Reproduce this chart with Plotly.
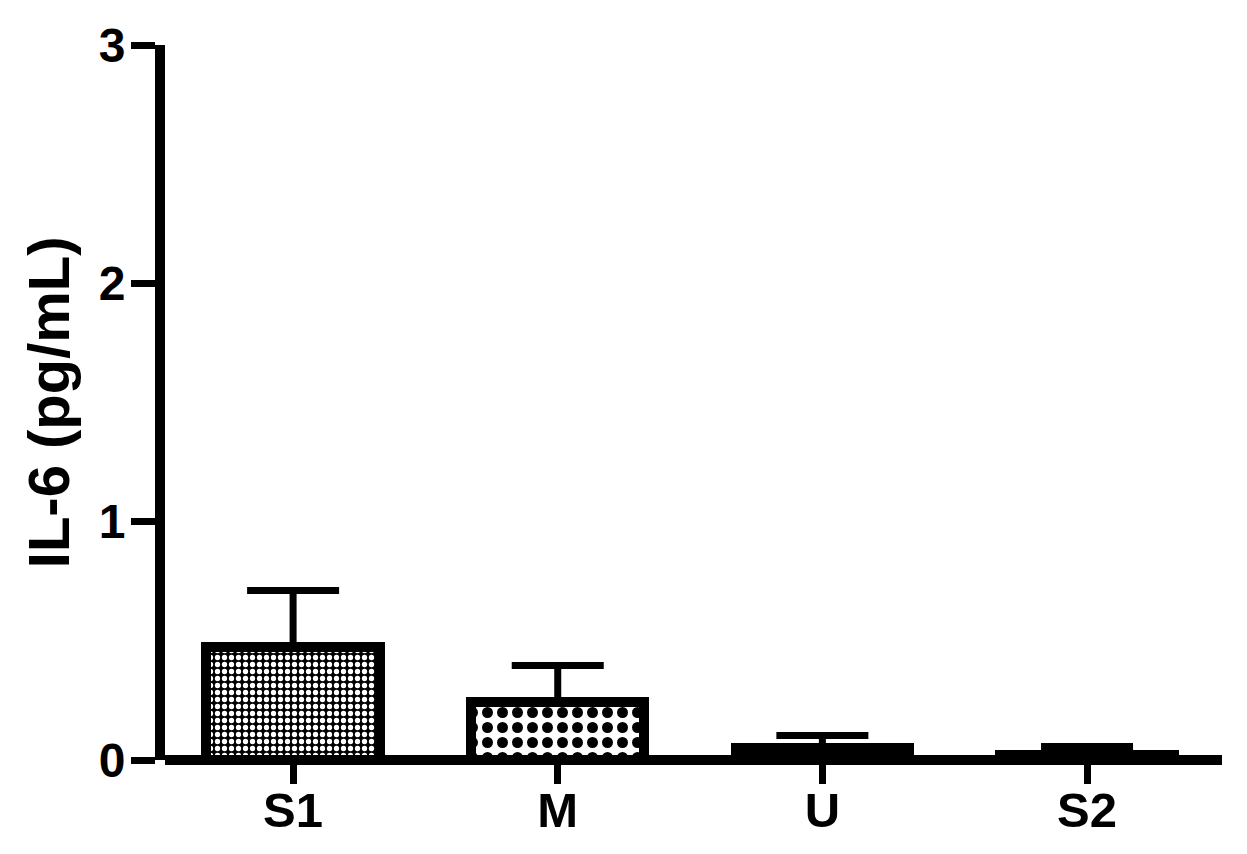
import plotly.graph_objects as go

categories = ["S1", "M", "U", "S2"]
means = [0.474, 0.243, 0.05, 0.021]
sem_upper = [0.237, 0.154, 0.053, 0.036]
y_ticks = [0, 1, 2, 3]
y_title = "IL-6 (pg/mL)"

FONT = "Liberation Sans, Arial, sans-serif"

patterns = [
    dict(shape=".", bgcolor="black", fgcolor="white", size=7, solidity=0.45, fillmode="replace"),
    dict(shape=".", bgcolor="white", fgcolor="black", size=15, solidity=0.42, fillmode="replace"),
    dict(shape="", bgcolor="black"),
    dict(shape="", bgcolor="black"),
]

fig = go.Figure()
for i, c in enumerate(categories):
    fig.add_trace(go.Bar(
        x=[c], y=[means[i]],
        width=0.655,
        marker=dict(color="black", line=dict(color="black", width=10), pattern=patterns[i]),
        error_y=dict(type="data", array=[sem_upper[i]], arrayminus=[0], symmetric=False,
                     color="black", thickness=7, width=46),
        showlegend=False,
    ))

fig.update_layout(
    width=1247, height=854,
    margin=dict(l=157, r=33, t=37, b=102, autoexpand=False),
    paper_bgcolor="white", plot_bgcolor="white",
    font=dict(family=FONT, color="black", size=49, weight="bold"),
    bargap=0,
    xaxis=dict(
        type="category", categoryorder="array", categoryarray=categories,
        range=[-0.484, 3.51], automargin=False,
        showline=False, showgrid=False, zeroline=False,
        ticks="outside", ticklen=23, tickwidth=7, tickcolor="black",
        ticklabelstandoff=-16,
        tickfont=dict(family=FONT, size=49, color="black", weight="bold"),
    ),
    yaxis=dict(
        range=[0, 3], tickvals=y_ticks, automargin=False,
        showline=True, linewidth=10, linecolor="black",
        showgrid=False, zeroline=True, zerolinewidth=10, zerolinecolor="black",
        ticks="outside", ticklen=24, tickwidth=7, tickcolor="black",
        ticklabelstandoff=-4,
        tickfont=dict(family=FONT, size=48, color="black", weight="bold"),
    ),
    annotations=[dict(
        text=y_title, textangle=-90, xref="paper", yref="paper",
        x=-0.11, y=0.5, xanchor="center", yanchor="middle", showarrow=False,
        font=dict(family=FONT, size=58, color="black", weight="bold"),
    )],
)

fig.write_html("out.html")
